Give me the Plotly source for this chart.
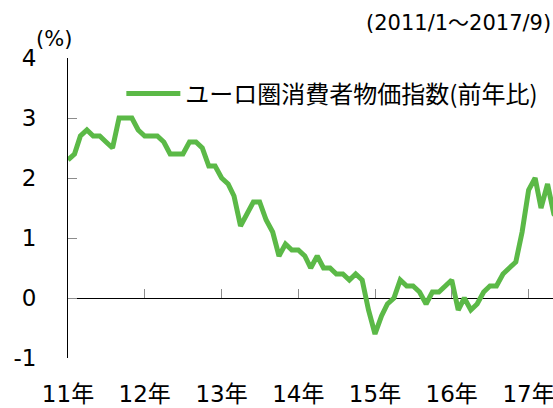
import plotly.graph_objects as go

# ---- data ----
months = [f"{y}-{m:02d}-01" for y in range(2011, 2018) for m in range(1, 13)][:81]
cpi_2011 = [2.3, 2.4, 2.7, 2.8, 2.7, 2.7, 2.6, 2.5, 3.0, 3.0, 3.0, 2.8]
cpi_2012 = [2.7, 2.7, 2.7, 2.6, 2.4, 2.4, 2.4, 2.6, 2.6, 2.5, 2.2, 2.2]
cpi_2013 = [2.0, 1.9, 1.7, 1.2, 1.4, 1.6, 1.6, 1.3, 1.1, 0.7, 0.9, 0.8]
cpi_2014 = [0.8, 0.7, 0.5, 0.7, 0.5, 0.5, 0.4, 0.4, 0.3, 0.4, 0.3, -0.2]
cpi_2015 = [-0.6, -0.3, -0.1, 0.0, 0.3, 0.2, 0.2, 0.1, -0.1, 0.1, 0.1, 0.2]
cpi_2016 = [0.3, -0.2, 0.0, -0.2, -0.1, 0.1, 0.2, 0.2, 0.4, 0.5, 0.6, 1.1]
cpi_2017 = [1.8, 2.0, 1.5, 1.9, 1.4, 1.3, 1.3, 1.5, 1.5]
cpi = cpi_2011 + cpi_2012 + cpi_2013 + cpi_2014 + cpi_2015 + cpi_2016 + cpi_2017

year_ticks = ["2011-01-01", "2012-01-01", "2013-01-01", "2014-01-01",
              "2015-01-01", "2016-01-01", "2017-01-01"]
year_labels = ["11年", "12年", "13年", "14年", "15年", "16年", "17年"]
y_ticks = [-1, 0, 1, 2, 3, 4]
y_labels = ["-1", "0", "1", "2", "3", "4"]
series_name = "ユーロ圏消費者物価指数(前年比)"
period_note = "(2011/1～2017/9)"
unit_label = "(%)"

FONT = "Noto Sans CJK JP"
TICKFONT = "DejaVu Sans, Noto Sans CJK JP"
GREEN = "#5bb947"
x_range = ["2011-01-01", "2017-04-27"]

fig = go.Figure()
fig.add_trace(go.Scatter(
    x=months, y=cpi, mode="lines", name=series_name,
    line=dict(color=GREEN, width=5),
))
# helper trace for the tick axis on the zero line
fig.add_trace(go.Scatter(
    x=months, y=cpi, mode="lines", xaxis="x2", showlegend=False,
    line=dict(color="rgba(0,0,0,0)", width=0), hoverinfo="skip",
))

fig.update_layout(
    width=553, height=408,
    margin=dict(l=68, r=0, t=58, b=50, autoexpand=False),
    paper_bgcolor="white", plot_bgcolor="white",
    font=dict(family=FONT, size=24, color="#000000"),
    showlegend=True,
    legend=dict(
        x=0.11, y=0.88, xanchor="left", yanchor="middle",
        bgcolor="rgba(0,0,0,0)", font=dict(size=24, family=FONT),
        itemwidth=54,
    ),
    xaxis=dict(
        type="date", range=x_range, automargin=False,
        tickvals=year_ticks, ticktext=year_labels,
        ticks="", showline=False, showgrid=False, zeroline=False,
        ticklabelstandoff=20, ticklabeloverflow="allow",
        tickfont=dict(size=23, family=TICKFONT),
    ),
    xaxis2=dict(
        type="date", range=x_range, overlaying="x", anchor="free", position=0.2,
        automargin=False,
        tickvals=year_ticks, ticks="inside", ticklen=9, tickwidth=1,
        tickcolor="#8c8c8c", showticklabels=False, showline=False,
        showgrid=False, zeroline=False, ticklabeloverflow="allow",
    ),
    yaxis=dict(
        range=[-1, 4], tickvals=y_ticks, ticktext=y_labels, automargin=False,
        ticks="inside", ticklen=9, tickwidth=1, tickcolor="#8c8c8c",
        showline=True, linecolor="#000000", linewidth=1,
        showgrid=False, zeroline=True, zerolinecolor="#000000", zerolinewidth=1,
        ticklabelstandoff=26,
        tickfont=dict(size=23, family=TICKFONT),
    ),
    annotations=[
        dict(text=period_note, xref="paper", yref="paper", x=1.0, y=1.117,
             xanchor="right", yanchor="middle", showarrow=False,
             font=dict(size=21, family=TICKFONT)),
        dict(text=unit_label, xref="paper", yref="paper", x=-0.029, y=1.063,
             xanchor="center", yanchor="middle", showarrow=False,
             font=dict(size=21, family=TICKFONT)),
    ],
)

fig.write_html(
    "out.html",
    config={"displayModeBar": False},
    post_script="document.body.style.margin='0';document.body.style.overflow='hidden';",
)
